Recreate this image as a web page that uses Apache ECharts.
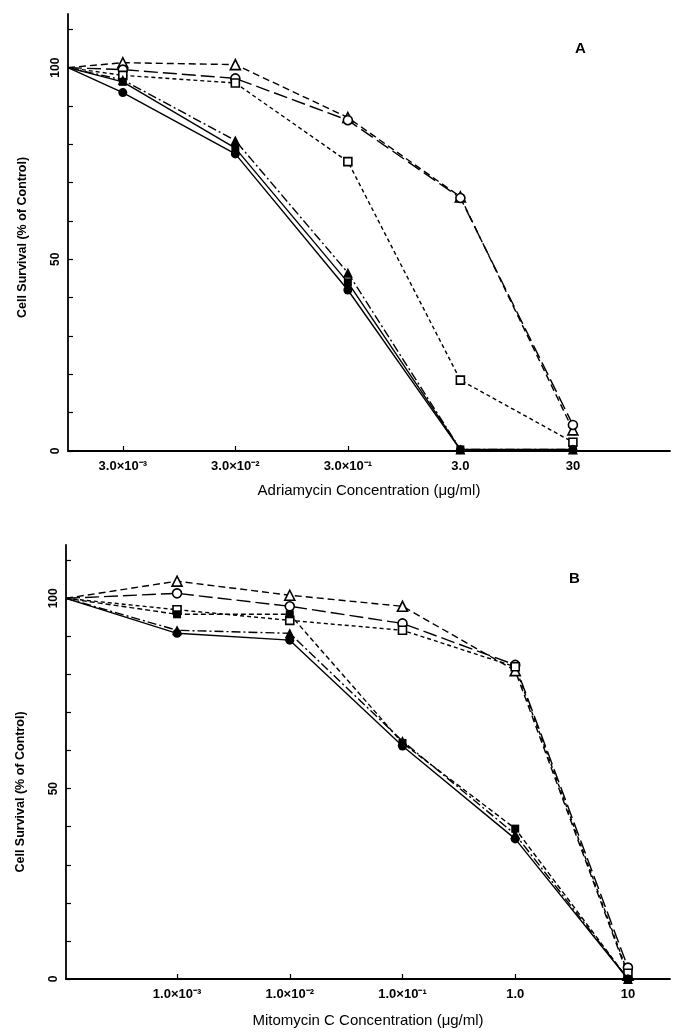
<!DOCTYPE html>
<html>
<head>
<meta charset="utf-8">
<script src="https://cdn.jsdelivr.net/npm/echarts@6/dist/echarts.min.js"></script>
<style>
  html, body { margin: 0; padding: 0; background: #fff; }
  #chart { width: 674px; height: 1032px; }
</style>
</head>
<body>
<div id="chart"></div>
<script>
// doses (µg/ml); 0 = untreated control, drawn at the axis origin
const dosesA = [0, 3e-3, 3e-2, 3e-1, 3, 30];
const dosesB = [0, 1e-3, 1e-2, 1e-1, 1, 10];

const tickDosesA = [3e-3, 3e-2, 3e-1, 3, 30];
const tickLabelsA = ["3.0×10⁻³", "3.0×10⁻²", "3.0×10⁻¹", "3.0", "30"];
const tickDosesB = [1e-3, 1e-2, 1e-1, 1, 10];
const tickLabelsB = ["1.0×10⁻³", "1.0×10⁻²", "1.0×10⁻¹", "1.0", "10"];

const yTicks = [0, 10, 20, 30, 40, 50, 60, 70, 80, 90, 100, 110];
const yLabels = [0, 50, 100];

// panel A: Adriamycin, cell survival (% of control)
const openTriA = [100, 101.3, 100.8, 87, 66.3, 5.5];
const openCircA = [100, 99.5, 97.2, 86.3, 66, 6.8];
const openSqA = [100, 98, 96, 75.5, 18.5, 2.3];
const fillSqA = [100, 96.3, 79, 44, 0.4, 0.4];
const fillTriA = [100, 96.8, 81, 46.5, 0.4, 0.4];
const fillCircA = [100, 93.5, 77.5, 42, 0.3, 0.3];

// panel B: Mitomycin C
const openTriB = [100, 104.5, 100.8, 97.9, 81, 1];
const openCircB = [100, 101.3, 97.9, 93.4, 82.5, 3];
const openSqB = [100, 97, 94.2, 91.6, 82, 1.5];
const fillSqB = [100, 95.8, 95.8, 62, 39.5, 0];
const fillTriB = [100, 91.6, 90.8, 62.5, 38, 0];
const fillCircB = [100, 90.8, 89, 61.2, 36.8, 0];

const minA = -3.01, maxA = 2.34;
const minB = -3.985, maxB = 1.373;

const chart = echarts.init(document.getElementById("chart"));

const toPoints = (doses, vals, xmin) =>
  doses.map((d, i) => {
    const x = d === 0 ? xmin : Math.log10(d);
    return i === 0 ? { value: [x, vals[i]], symbolSize: 0 } : [x, vals[i]];
  });

const line = (name, idx, doses, vals, xmin, symbol, filled, dash, size) => ({
  name: name,
  type: "line",
  xAxisIndex: idx,
  yAxisIndex: idx,
  data: toPoints(doses, vals, xmin),
  symbol: symbol,
  symbolSize: size,
  clip: false,
  z: filled ? 4 : 3,
  lineStyle: { color: "#000", width: 1.4, type: dash },
  itemStyle: {
    color: filled ? "#000" : "#fff",
    borderColor: "#000",
    borderWidth: filled ? 0 : 1.6,
  },
  emphasis: { disabled: true },
});

const xAxis = (idx, min, max, ticks, labels, name, gap) => {
  const vals = ticks.map((t) => Math.log10(t));
  return {
    type: "value",
    gridIndex: idx,
    min: min,
    max: max,
    splitLine: { show: false },
    axisLine: { onZero: false, lineStyle: { color: "#000", width: 1.8 } },
    axisTick: {
      inside: true,
      length: 5,
      customValues: vals,
      lineStyle: { color: "#000", width: 1.2 },
    },
    axisLabel: {
      customValues: vals,
      margin: 9,
      color: "#000",
      fontFamily: "Liberation Sans",
      fontWeight: "bold",
      fontSize: 13,
      formatter: (v) => {
        const i = vals.findIndex((t) => Math.abs(t - v) < 1e-6);
        return i < 0 ? "" : labels[i];
      },
    },
    name: name,
    nameLocation: "middle",
    nameGap: gap,
    nameTextStyle: { color: "#000", fontFamily: "Liberation Sans", fontSize: 15 },
  };
};

const yAxis = (idx, pad) => ({
  type: "value",
  gridIndex: idx,
  min: 0,
  max: 114,
  splitLine: { show: false },
  axisLine: { onZero: false, lineStyle: { color: "#000", width: 1.8 } },
  axisTick: {
    inside: true,
    length: 5,
    customValues: yTicks,
    lineStyle: { color: "#000", width: 1.2 },
  },
  axisLabel: {
    customValues: yLabels,
    rotate: 90,
    margin: 6,
    color: "#000",
    fontFamily: "Liberation Sans",
    fontWeight: "bold",
    fontSize: 12,
  },
  name: "Cell Survival (% of Control)",
  nameLocation: "middle",
  nameGap: 39,
  nameTextStyle: {
    color: "#000",
    fontFamily: "Liberation Sans",
    fontWeight: "bold",
    fontSize: 12.5,
    padding: pad,
  },
});

const option = {
  backgroundColor: "#fff",
  animation: false,
  title: [
    { text: "A", left: 570, top: 36, textStyle: { fontSize: 15, fontWeight: "bold", color: "#000", fontFamily: "Liberation Sans" } },
    { text: "B", left: 564, top: 566, textStyle: { fontSize: 15, fontWeight: "bold", color: "#000", fontFamily: "Liberation Sans" } },
  ],
  grid: [
    { left: 68, right: 4, top: 14, height: 437 },
    { left: 66, right: 4, top: 545, height: 434 },
  ],
  xAxis: [
    xAxis(0, minA, maxA, tickDosesA, tickLabelsA, "Adriamycin Concentration (μg/ml)", 32),
    xAxis(1, minB, maxB, tickDosesB, tickLabelsB, "Mitomycin C Concentration (μg/ml)", 34),
  ],
  yAxis: [yAxis(0, [0, 10, 0, 0]), yAxis(1, [0, 60, 0, 0])],
  series: [
    line("open triangle A", 0, dosesA, openTriA, minA, "triangle", false, [7, 4], 10),
    line("open circle A", 0, dosesA, openCircA, minA, "circle", false, [14, 5], 9),
    line("open square A", 0, dosesA, openSqA, minA, "rect", false, [4, 3], 8),
    line("filled square A", 0, dosesA, fillSqA, minA, "rect", true, "solid", 8),
    line("filled triangle A", 0, dosesA, fillTriA, minA, "triangle", true, [9, 3, 2, 3], 10),
    line("filled circle A", 0, dosesA, fillCircA, minA, "circle", true, "solid", 9),
    line("open triangle B", 1, dosesB, openTriB, minB, "triangle", false, [7, 4], 10),
    line("open circle B", 1, dosesB, openCircB, minB, "circle", false, [14, 5], 9),
    line("open square B", 1, dosesB, openSqB, minB, "rect", false, [4, 3], 8),
    line("filled square B", 1, dosesB, fillSqB, minB, "rect", true, [5, 3], 8),
    line("filled triangle B", 1, dosesB, fillTriB, minB, "triangle", true, [9, 3, 2, 3], 10),
    line("filled circle B", 1, dosesB, fillCircB, minB, "circle", true, "solid", 9),
  ],
};

chart.setOption(option);
</script>
</body>
</html>
